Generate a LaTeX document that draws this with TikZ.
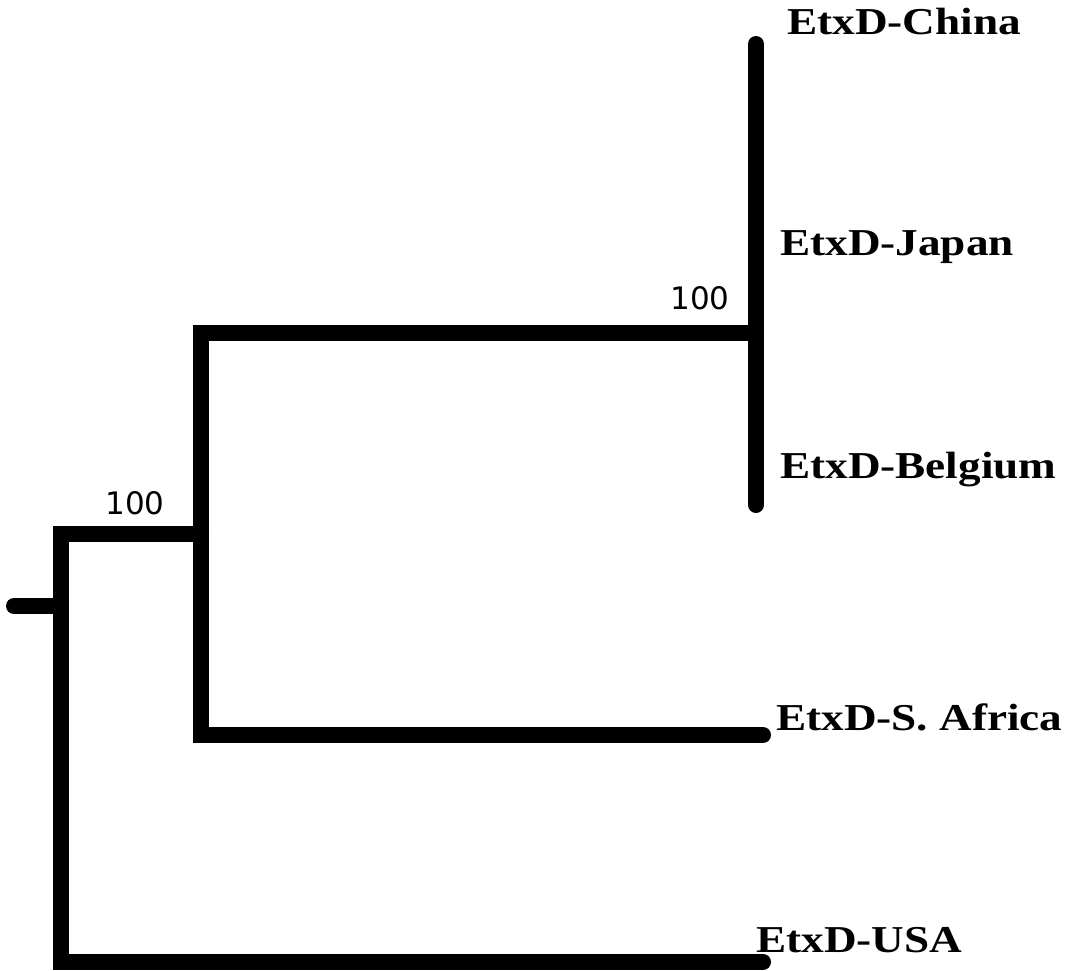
\documentclass[tikz,border=0pt]{standalone}
\usepackage{fontspec}
\setmainfont{Liberation Serif}
\newfontfamily\leaffont[FakeStretch=1.19]{Liberation Serif}
\newfontfamily\numfont{DejaVu Sans}
\begin{document}
\begin{tikzpicture}[x=1pt,y=-1pt,
  branch/.style={line width=16pt,line cap=round,line join=miter},
  leaf/.style={anchor=west,inner sep=0pt,font=\leaffont\fontsize{38}{38}\bfseries\selectfont},
  boot/.style={inner sep=0pt,font=\numfont\fontsize{31}{31}\selectfont}]
\useasboundingbox (0,0) rectangle (1070,971);
% tree coordinates
\coordinate (stub) at (14,606);
\coordinate (rootT) at (61,534);
\coordinate (rootM) at (61,606);
\coordinate (rootB) at (61,962);
\coordinate (inT) at (201,333);
\coordinate (inM) at (201,534);
\coordinate (inB) at (201,735);
\coordinate (clT) at (756,44);
\coordinate (clM) at (756,333);
\coordinate (clB) at (756,505);
\coordinate (saf) at (763,735);
\coordinate (usa) at (763,962);
% branches
\draw[branch] (stub) -- (rootM);
\draw[branch] (inM) -- (rootT) -- (rootB) -- (usa);
\draw[branch] (clM) -- (inT) -- (inB) -- (saf);
\draw[branch] (clT) -- (clB);
% labels
\node[leaf] (lchina) at (787,22) {EtxD-China};
\node[leaf] (ljapan) at (780,247) {EtxD-Japan};
\node[leaf] (lbelg) at (780,470) {EtxD-Belgium};
\node[leaf] (lsaf) at (776,717) {EtxD-S. Africa};
\node[leaf] (lusa) at (756,940) {EtxD-USA};
\node[boot] (b1) at (135,503) {100};
\node[boot] (b2) at (700,298) {100};
\end{tikzpicture}
\end{document}
